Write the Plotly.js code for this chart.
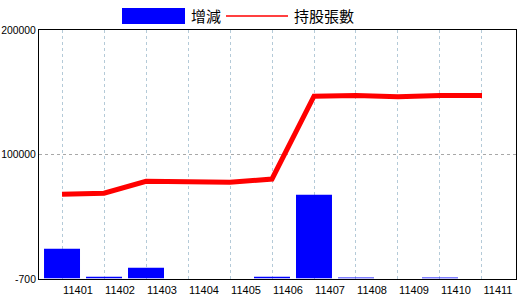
<!DOCTYPE html>
<html>
<head>
<meta charset="utf-8">
<script src="https://cdn.plot.ly/plotly-3.0.1.min.js"></script>
<style>html,body{margin:0;padding:0;background:#fff;}#chart{width:520px;height:300px;}</style>
</head>
<body>
<div id="chart"></div>
<script>
const categories = ["11401","11402","11403","11404","11405","11406","11407","11408","11409","11410","11411"];
const changeValues = [23600, 1050, 8300, 0, 0, 1100, 67300, 500, 0, 500, 0];
const holdingValues = [67600, 68400, 78000, 77200, 77200, 79900, 146700, 147200, 146100, 147200, 147200];
const yTickValues = [-700, 100000, 200000];
const yTickLabels = ["-700", "100000", "200000"];
const seriesNames = ["增減", "持股張數"];

const W = 520, H = 300;
const M = {l: 39, r: 4, t: 30, b: 21};
const pw = W - M.l - M.r, ph = H - M.t - M.b;
const px = x => (x - M.l) / pw;
const py = y => (H - M.b - y) / ph;

const traces = [
  {type: 'bar', name: seriesNames[0], x: categories, y: changeValues,
   marker: {color: '#0000ff', line: {width: 0}}, hoverinfo: 'skip'},
  {type: 'scatter', mode: 'lines', name: seriesNames[1], x: categories, y: holdingValues,
   line: {color: '#ff0000', width: 5}, hoverinfo: 'skip'}
];

const font = {family: 'Liberation Sans, Arial, sans-serif', size: 11, color: '#000'};
const yfont = {family: 'Liberation Sans, Arial, sans-serif', size: 10.4, color: '#000'};
const layout = {
  width: W, height: H,
  margin: M,
  paper_bgcolor: '#fff', plot_bgcolor: '#fff',
  showlegend: false,
  bargap: 0.143,
  font: font,
  xaxis: {
    type: 'category', categoryorder: 'array', categoryarray: categories,
    range: [-0.548, 10.81],
    showgrid: true, gridcolor: '#b4cad8', griddash: 'dot', gridwidth: 1,
    showline: true, linecolor: '#000', linewidth: 1, mirror: true,
    ticks: '', ticklabelshift: 16, ticklabelstandoff: 1,
    tickfont: font, zeroline: false, fixedrange: true
  },
  yaxis: {
    range: [-700, 200000],
    tickmode: 'array', tickvals: yTickValues, ticktext: yTickLabels,
    showgrid: true, gridcolor: '#a8a8a8', griddash: 'dot', gridwidth: 1,
    showline: true, linecolor: '#000', linewidth: 1, mirror: true,
    ticks: '', ticklabelstandoff: 0,
    tickfont: yfont, zeroline: false, fixedrange: true
  },
  shapes: [
    {type: 'rect', xref: 'paper', yref: 'paper', x0: px(122), x1: px(185), y0: py(24), y1: py(8),
     fillcolor: '#0000ff', line: {width: 0}},
    {type: 'line', xref: 'paper', yref: 'paper', x0: px(226), x1: px(288), y0: py(16), y1: py(16),
     line: {color: '#ff0000', width: 1.5}}
  ],
  annotations: [
    {xref: 'paper', yref: 'paper', x: px(189), y: py(16), xanchor: 'left', yanchor: 'middle',
     text: seriesNames[0], showarrow: false,
     font: {family: 'Noto Sans CJK TC, sans-serif', size: 15, color: '#000'}},
    {xref: 'paper', yref: 'paper', x: px(292), y: py(16), xanchor: 'left', yanchor: 'middle',
     text: seriesNames[1], showarrow: false,
     font: {family: 'Noto Sans CJK TC, sans-serif', size: 15, color: '#000'}}
  ]
};

Plotly.newPlot('chart', traces, layout, {displayModeBar: false, staticPlot: true});
</script>
</body>
</html>
